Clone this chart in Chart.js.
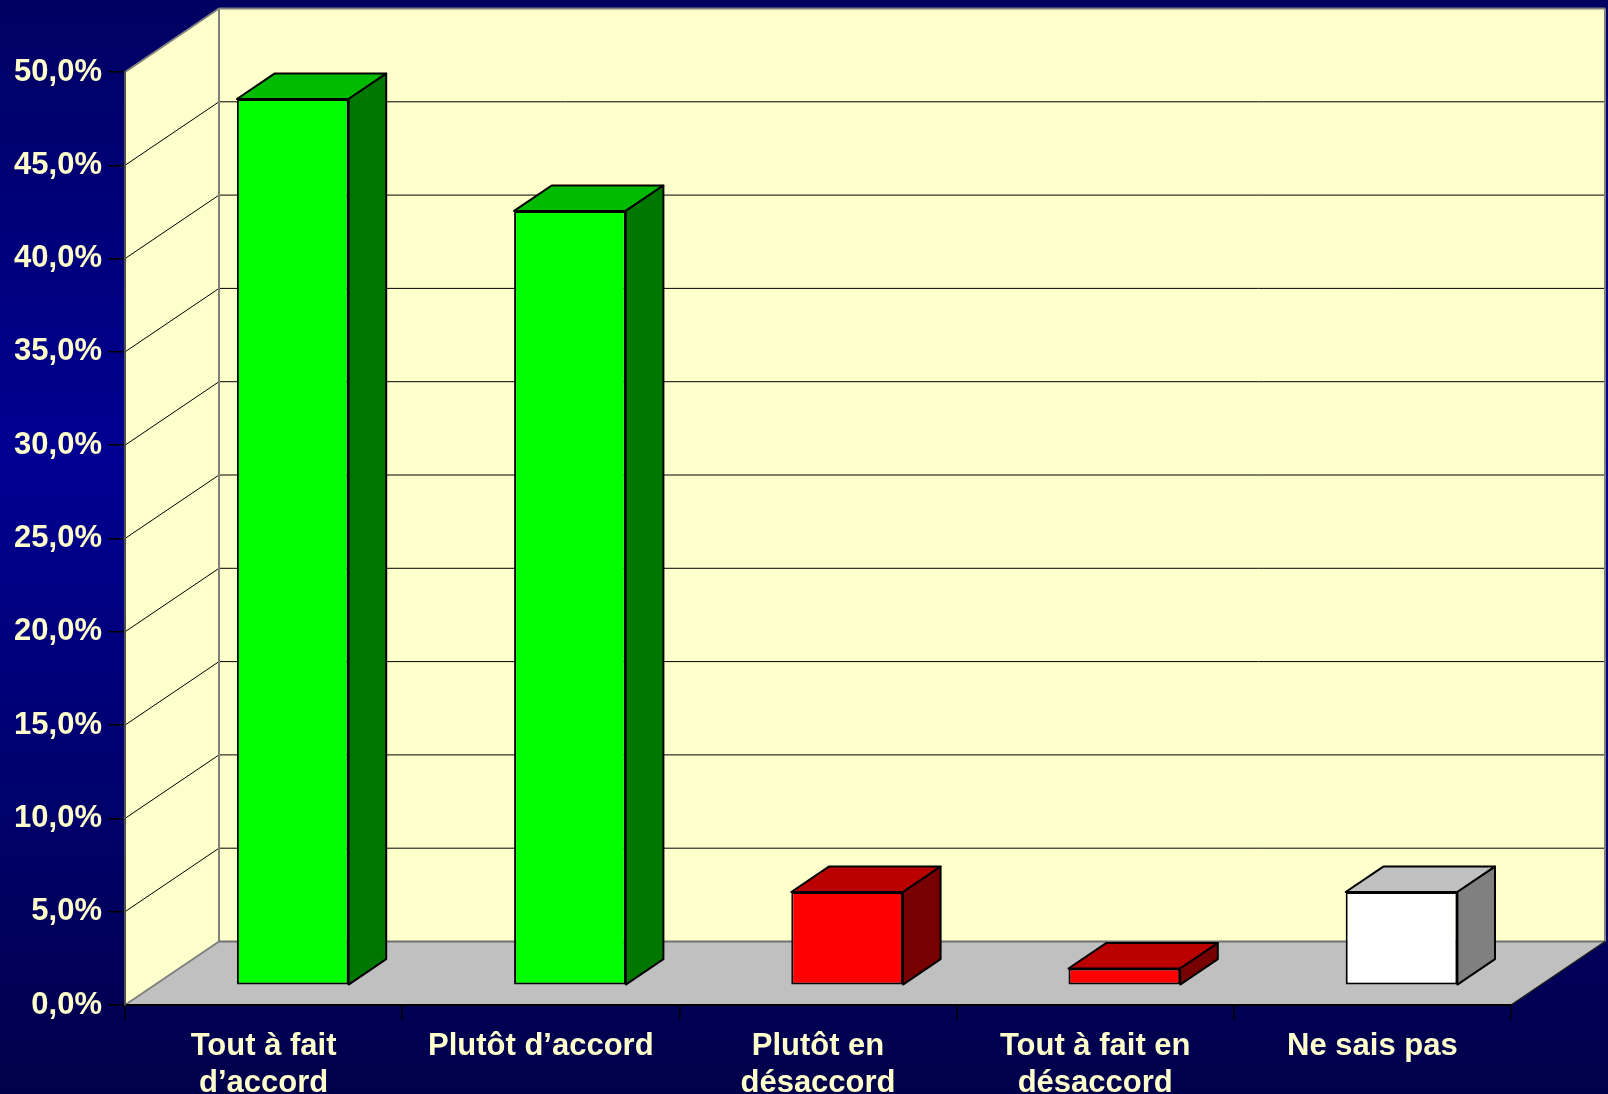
<!DOCTYPE html>
<html lang="fr">
<head>
<meta charset="utf-8">
<title>Répartition des réponses</title>
<script src="https://cdn.jsdelivr.net/npm/chart.js@4.4.1/dist/chart.umd.min.js"></script>
<style>
  html, body { margin: 0; padding: 0; background: #000050; }
  canvas { display: block; }
</style>
</head>
<body>
<canvas id="grafica" width="1608" height="1094"></canvas>
<script>
const reponses = [['Tout à fait', 'd’accord'], 'Plutôt d’accord', ['Plutôt en', 'désaccord'], ['Tout à fait en', 'désaccord'], 'Ne sais pas'];
const pourcentages = [47.5, 41.5, 5.0, 0.9, 5.0];
const graduations = [0, 5, 10, 15, 20, 25, 30, 35, 40, 45, 50];

// couleurs des faces de chaque barre : devant, dessus, côté
const faceAvant = ['#00FF00', '#00FF00', '#FF0000', '#FF0000', '#FFFFFF'];
const faceDessus = ['#00BB00', '#00BB00', '#BB0000', '#BB0000', '#C0C0C0'];
const faceCote = ['#007700', '#007700', '#770000', '#770000', '#808080'];

const PROF_X = 94, PROF_Y = -63.5;   // profondeur du décor en perspective
const DEBUT = 0.31, EPAIS = 0.40;    // place des barres dans la profondeur
const couleurTexte = '#FFFFCC';
const police = { family: "'Liberation Sans', Arial, sans-serif", size: 31, weight: 'bold', lineHeight: 1.2 };

function polygone(ctx, pts, fond, trait, epaisseur) {
    ctx.beginPath();
    ctx.moveTo(pts[0][0], pts[0][1]);
    for (let i = 1; i < pts.length; i++) ctx.lineTo(pts[i][0], pts[i][1]);
    ctx.closePath();
    if (fond) { ctx.fillStyle = fond; ctx.fill(); }
    if (trait) { ctx.strokeStyle = trait; ctx.lineWidth = epaisseur || 1; ctx.stroke(); }
}

function ligne(ctx, x1, y1, x2, y2, couleur, epaisseur) {
    ctx.beginPath();
    ctx.moveTo(x1, y1);
    ctx.lineTo(x2, y2);
    ctx.strokeStyle = couleur;
    ctx.lineWidth = epaisseur;
    ctx.stroke();
}

// fond dégradé, murs, sol et quadrillage
const decor = {
    id: 'decor',
    beforeDraw(chart) {
        const { ctx, chartArea: a, width, height } = chart;
        const echelle = chart.scales.y;
        const L = a.left, R = a.right, T = a.top, B = a.bottom;
        const dx = PROF_X, dy = PROF_Y;

        ctx.save();
        const fond = ctx.createLinearGradient(0, 0, 0, height);
        fond.addColorStop(0, '#000062');
        fond.addColorStop(0.42, '#000092');
        fond.addColorStop(1, '#00004A');
        ctx.fillStyle = fond;
        ctx.fillRect(0, 0, width, height);

        // sol
        polygone(ctx, [[L, B], [R, B], [R + dx, B + dy], [L + dx, B + dy]], '#C0C0C0');
        // mur de gauche
        polygone(ctx, [[L, T], [L + dx, T + dy], [L + dx, B + dy], [L, B]], '#FFFFCC');
        // mur du fond
        polygone(ctx, [[L + dx, T + dy], [R + dx, T + dy], [R + dx, B + dy], [L + dx, B + dy]], '#FFFFCC');

        // quadrillage
        echelle.ticks.forEach(t => {
            if (t.value === 0 || t.value === 50) return;
            const py = echelle.getPixelForValue(t.value);
            ligne(ctx, L, py, L + dx, py + dy, '#000000', 1);
            ligne(ctx, L + dx, py + dy, R + dx, py + dy, '#000000', 1);
        });

        // arêtes des murs
        const gris = '#808080';
        ligne(ctx, L, T, L + dx, T + dy, gris, 2);
        ligne(ctx, L + dx, T + dy, R + dx, T + dy, gris, 2);
        ligne(ctx, L + dx, T + dy, L + dx, B + dy, gris, 2);
        ligne(ctx, R + dx, T + dy, R + dx, B + dy, gris, 2);
        ligne(ctx, L + dx, B + dy, R + dx, B + dy, '#707070', 2);
        ligne(ctx, L, B, L + dx, B + dy, gris, 2);
        ligne(ctx, R, B, R + dx, B + dy, '#202020', 1.5);
        ctx.restore();
    }
};

// faces du dessus et du côté des barres
const relief = {
    id: 'relief',
    beforeDatasetDraw(chart) {
        chart.ctx.save();
        chart.ctx.translate(PROF_X * DEBUT, PROF_Y * DEBUT);
    },
    afterDatasetDraw(chart, args) {
        const ctx = chart.ctx;
        const dx = PROF_X * EPAIS, dy = PROF_Y * EPAIS;
        ctx.lineJoin = 'round';
        args.meta.data.forEach((barre, i) => {
            const { x, y, base, width } = barre.getProps(['x', 'y', 'base', 'width'], true);
            const g = x - width / 2, d = x + width / 2;
            polygone(ctx, [[g, y], [g + dx, y + dy], [d + dx, y + dy], [d, y]], faceDessus[i], '#000000', 2);
            polygone(ctx, [[d, y], [d + dx, y + dy], [d + dx, base + dy], [d, base]], faceCote[i], '#000000', 2);
        });
        ctx.restore();
    }
};

new Chart(document.getElementById('grafica'), {
    type: 'bar',
    data: {
        labels: reponses,
        datasets: [{
            data: pourcentages,
            backgroundColor: faceAvant,
            borderColor: '#000000',
            borderWidth: 2,
            borderSkipped: false,
            barPercentage: 0.403,
            categoryPercentage: 1,
            clip: false
        }]
    },
    options: {
        responsive: false,
        animation: false,
        devicePixelRatio: 1,
        layout: { padding: { top: 72, right: 97, left: 0, bottom: 0 } },
        plugins: { legend: { display: false }, tooltip: { enabled: false } },
        scales: {
            x: {
                grid: { drawOnChartArea: false, tickLength: 15, color: '#000000', lineWidth: 1.5 },
                border: { color: '#000000', width: 2 },
                ticks: { color: couleurTexte, font: police, padding: 8, maxRotation: 0, autoSkip: false },
                afterFit(s) { s.height = 89; }
            },
            y: {
                min: 0,
                max: 50,
                afterBuildTicks(s) { s.ticks = graduations.map(v => ({ value: v })); },
                grid: { drawOnChartArea: false, tickLength: 17, color: '#000000', lineWidth: 1.5 },
                border: { color: '#505050', width: 2 },
                ticks: {
                    color: couleurTexte,
                    font: police,
                    padding: 6,
                    callback: v => v.toFixed(1).replace('.', ',') + '%'
                },
                afterFit(s) { s.width = 125; }
            }
        }
    },
    plugins: [decor, relief]
});
</script>
</body>
</html>
